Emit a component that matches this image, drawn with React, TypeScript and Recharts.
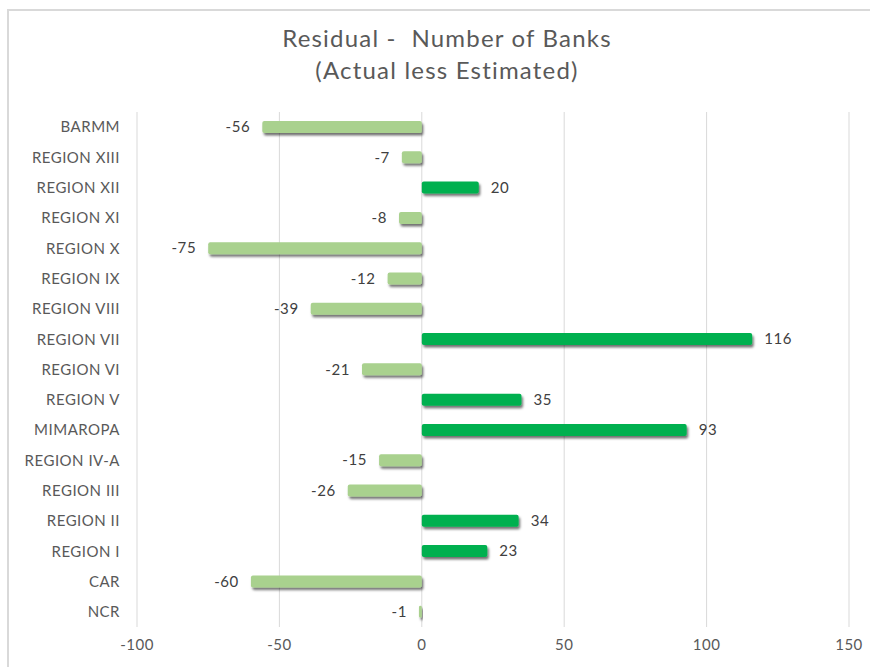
import React from "react";
import { BarChart, Bar, XAxis, YAxis, CartesianGrid, Cell, LabelList, Rectangle } from "recharts";

const regions = [
  "NCR", "CAR", "REGION I", "REGION II", "REGION III", "REGION IV-A", "MIMAROPA", "REGION V",
  "REGION VI", "REGION VII", "REGION VIII", "REGION IX", "REGION X", "REGION XI", "REGION XII",
  "REGION XIII", "BARMM",
];
const residuals = [-1, -60, 23, 34, -26, -15, 93, 35, -21, 116, -39, -12, -75, -8, 20, -7, -56];
const xTicks = [-100, -50, 0, 50, 100, 150];

const POS = "#00B050";
const NEG = "#A9D18E";
const FONT = "Lato, 'Open Sans', sans-serif";

const data = regions.map((name, i) => ({ name, value: residuals[i] }));

function ShadowBar(props: any) {
  const { x, y, width, height, fill } = props;
  const left = Math.min(x, x + width);
  const w = Math.abs(width);
  return (
    <Rectangle x={left} y={y} width={w} height={height} fill={fill} radius={2} filter="url(#barShadow)" />
  );
}

function ValueLabel(props: any) {
  const { x, y, width, height, value } = props;
  const left = Math.min(x, x + width);
  const right = Math.max(x, x + width);
  const neg = value < 0;
  return (
    <text
      x={neg ? left - 12 : right + 12}
      y={y + height / 2}
      dy="0.35em"
      textAnchor={neg ? "end" : "start"}
      fill="#404040"
      fontSize={15}
      letterSpacing={0.6}
      fontFamily={FONT}
    >
      {value}
    </text>
  );
}

export default function App() {
  return (
    <div style={{ position: "absolute", left: 0, top: 0, width: 870, height: 667, background: "#fff", fontFamily: FONT }}>
      <svg width={0} height={0} style={{ position: "absolute" }}>
        <defs>
          <filter id="barShadow" x="-10%" y="-50%" width="130%" height="250%">
            <feDropShadow dx={1.5} dy={2.5} stdDeviation={1.2} floodColor="#000" floodOpacity={0.55} />
          </filter>
        </defs>
      </svg>
      <div
        style={{
          position: "absolute",
          left: 7,
          top: 9,
          width: 880,
          height: 680,
          borderLeft: "2px solid #d9d9d9",
          borderTop: "2px solid #d9d9d9",
        }}
      />
      <div
        style={{
          position: "absolute",
          left: 0,
          width: 870,
          top: 22,
          textAlign: "center",
          color: "#595959",
          fontSize: 24,
          letterSpacing: 1.2,
          lineHeight: "32px",
          paddingLeft: 24,
          boxSizing: "border-box",
        }}
      >
        <div>Residual -&nbsp; Number of Banks</div>
        <div>(Actual less Estimated)</div>
      </div>
      <div style={{ position: "absolute", left: 0, top: 0 }}>
        <BarChart
          width={870}
          height={667}
          data={data}
          layout="vertical"
          margin={{ top: 112, right: 21, bottom: 10, left: 0 }}
          barSize={12}
        >
          <CartesianGrid horizontal={false} stroke="#d9d9d9" />
          <XAxis
            type="number"
            domain={[-100, 150]}
            ticks={xTicks}
            axisLine={false}
            tickLine={false}
            tickMargin={6}
            height={30}
            tick={{ fill: "#595959", fontSize: 15, letterSpacing: 0.5, fontFamily: FONT }}
          />
          <YAxis
            type="category"
            dataKey="name"
            reversed
            width={137}
            axisLine={false}
            tickLine={false}
            tickMargin={11}
            interval={0}
            tick={{ fill: "#595959", fontSize: 15, letterSpacing: 0.5, fontFamily: FONT }}
          />
          <Bar dataKey="value" isAnimationActive={false} shape={<ShadowBar />}>
            {data.map((d, i) => (
              <Cell key={i} fill={d.value < 0 ? NEG : POS} />
            ))}
            <LabelList dataKey="value" content={<ValueLabel />} />
          </Bar>
        </BarChart>
      </div>
    </div>
  );
}
